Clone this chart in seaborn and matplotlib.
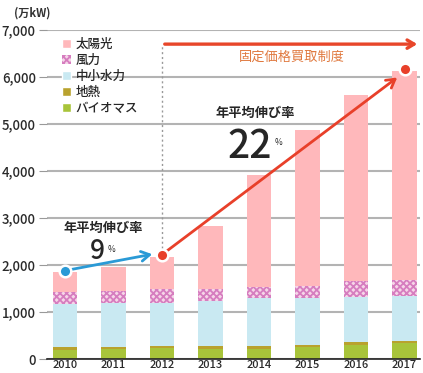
import matplotlib
matplotlib.use("Agg")
import matplotlib.pyplot as plt
from matplotlib.patches import Patch
import seaborn as sns
import numpy as np
import pandas as pd

years = ["2010", "2011", "2012", "2013", "2014", "2015", "2016", "2017"]
biomass = [195, 210, 225, 220, 220, 255, 305, 340]
geothermal = [50, 50, 50, 50, 50, 50, 50, 50]
hydro = [930, 930, 915, 965, 1030, 995, 975, 960]
wind = [245, 255, 300, 255, 230, 255, 335, 330]
solar = [430, 505, 670, 1350, 2390, 3325, 3945, 4440]
labels = ["太陽光", "風力", "中小水力", "地熱", "バイオマス"]
growth_before = "9"
growth_after = "22"
yticks = [0, 1000, 2000, 3000, 4000, 5000, 6000, 7000]

sns.set_style("white")
plt.rcParams['font.family'] = ['Noto Sans CJK JP', 'DejaVu Sans']
plt.rcParams['hatch.linewidth'] = 1.3

fig = plt.figure(figsize=(4.23, 3.73), dpi=100)
ax = fig.add_axes([0.111, 0.0375, 0.882, 0.882])

df = pd.DataFrame({"year": years, "biomass": biomass, "geo": geothermal,
                   "hydro": hydro, "wind": wind, "solar": solar})
df["c_bio"] = df["biomass"]
df["c_geo"] = df["c_bio"] + df["geo"]
df["c_hydro"] = df["c_geo"] + df["hydro"]
df["c_wind"] = df["c_hydro"] + df["wind"]
df["c_solar"] = df["c_wind"] + df["solar"]

col_solar = "#ffb8bb"
col_wind_face = "#f6d6e8"
col_wind_hatch = "#d67dbf"
col_hydro = "#c9e9f2"
col_geo = "#b9a22e"
col_bio = "#a8c43a"

w = 0.5
layers = [("c_solar", col_solar, None, None),
          ("c_wind", col_wind_face, "xxxxx", col_wind_hatch),
          ("c_hydro", col_hydro, None, None),
          ("c_geo", col_geo, None, None),
          ("c_bio", col_bio, None, None)]
for colname, c, hatch, ec in layers:
    kw = dict(linewidth=0)
    if hatch:
        kw.update(hatch=hatch, edgecolor=ec)
    sns.barplot(data=df, x="year", y=colname, color=c, saturation=1,
                width=w, ax=ax, zorder=2, **kw)

ax.set_xlabel("")
ax.set_ylabel("")
ax.set_xlim(-0.371, 7.32)
ax.set_ylim(0, 7000)
ax.set_yticks(yticks)
ax.set_yticklabels([f"{v:,}" for v in yticks], fontsize=9.5, color="#2a2a2a",
                   fontweight="medium")
ax.tick_params(axis="y", length=6, width=0.8, color="#999999", pad=2, left=True)
ax.tick_params(axis="x", length=0, labelsize=8, pad=0.5, labelcolor="#2a2a2a")
for t in ax.get_xticklabels():
    t.set_fontweight("medium")
ax.yaxis.grid(True, color="#b3b3b3", linewidth=1.5, zorder=0)
ax.set_axisbelow(True)
for s in ["top", "right", "left"]:
    ax.spines[s].set_visible(False)
ax.spines["bottom"].set_color("#222222")
ax.spines["bottom"].set_linewidth(1.2)
ax.spines["bottom"].set_zorder(5)

fig.text(0.033, 0.964, "(万kW)", fontsize=8, fontweight="bold", color="#333333", va="center")

# legend
handles = [Patch(facecolor=col_solar),
           Patch(facecolor=col_wind_face, hatch="xxxxx", edgecolor=col_wind_hatch, linewidth=0),
           Patch(facecolor=col_hydro),
           Patch(facecolor=col_geo),
           Patch(facecolor=col_bio)]
leg = ax.legend(handles, labels, loc="upper left", bbox_to_anchor=(0.02, 1.0), frameon=False,
                fontsize=9, handlelength=0.7, handleheight=0.7, handletextpad=0.4,
                labelspacing=0.25, borderaxespad=0.2)
for t in leg.get_texts():
    t.set_fontweight("medium")

# dotted vertical line at 2012
ax.plot([2, 2], [2250, 6700], linestyle=(0, (1.5, 2)), color="#999999", lw=1.0, zorder=3)

# orange FIT arrow
ax.annotate("", xy=(7.32, 6700), xytext=(2, 6700),
            arrowprops=dict(arrowstyle="->,head_length=0.5,head_width=0.3",
                            color="#e8462a", lw=2.4), zorder=6)
ax.text(4.68, 6420, "固定価格買取制度", color="#e0793f", fontsize=9.5, ha="center", va="center")

# blue growth arrow
blue = "#2a9ad6"
ax.annotate("", xy=(1.8, 2230), xytext=(0, 1880),
            arrowprops=dict(arrowstyle="->,head_length=0.6,head_width=0.35",
                            color=blue, lw=2.0, shrinkA=0, shrinkB=0), zorder=6)
ax.scatter([0], [1880], s=70, color=blue, edgecolor="white", linewidth=1.8, zorder=7)

# red growth arrow
red = "#e8402a"
ax.annotate("", xy=(6.85, 5990), xytext=(2, 2220),
            arrowprops=dict(arrowstyle="->,head_length=0.6,head_width=0.35",
                            color=red, lw=2.0, shrinkA=0, shrinkB=0), zorder=6)
ax.scatter([2], [2220], s=70, color=red, edgecolor="white", linewidth=1.8, zorder=7)
ax.scatter([7], [6180], s=70, color=red, edgecolor="white", linewidth=1.8, zorder=7)

# growth rate texts
ax.text(0.79, 2780, "年平均伸び率", fontsize=9.5, fontweight="bold", ha="center", va="center", zorder=8)
ax.text(0.67, 2130, growth_before, fontsize=19, fontweight="medium", ha="center", va="baseline", zorder=8)
ax.text(0.96, 2340, "%", fontsize=6, ha="center", va="center", zorder=8)
ax.text(3.92, 5234, "年平均伸び率", fontsize=9.5, fontweight="bold", ha="center", va="center", zorder=8)
ax.text(3.80, 4277, growth_after, fontsize=28, fontweight="medium", ha="center", va="baseline", zorder=8)
ax.text(4.41, 4610, "%", fontsize=6, ha="center", va="center", zorder=8)

fig.savefig("out.png", dpi=100)
